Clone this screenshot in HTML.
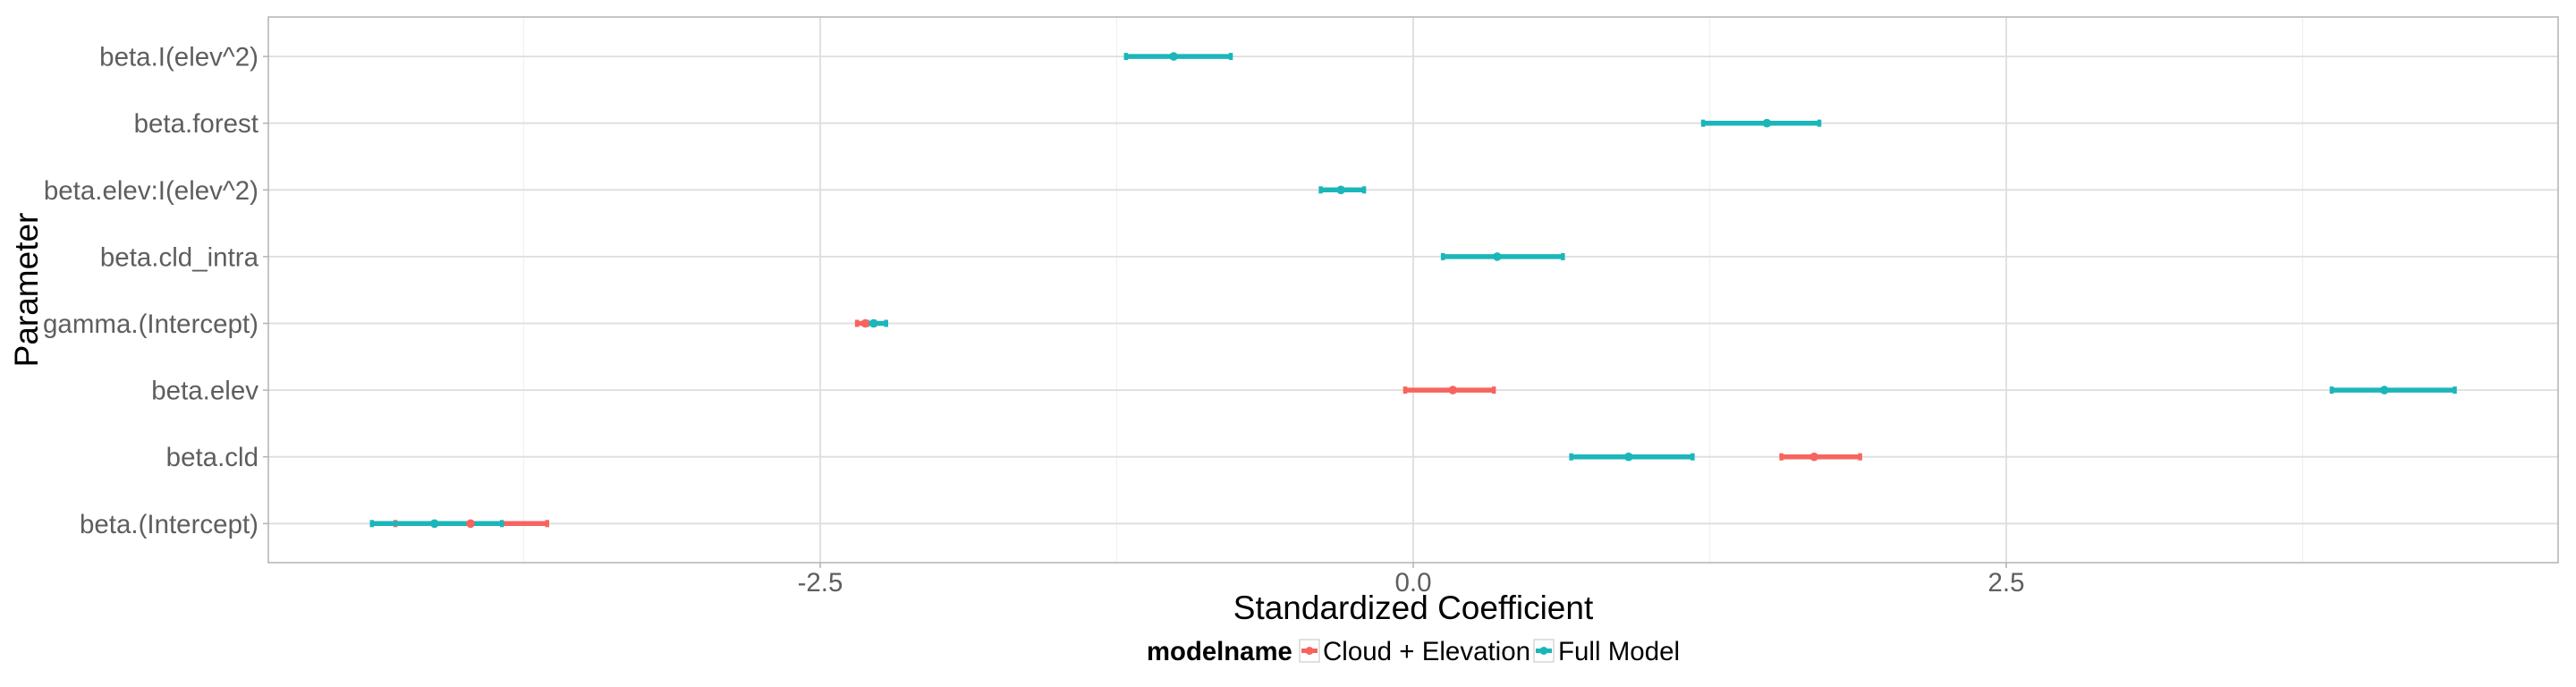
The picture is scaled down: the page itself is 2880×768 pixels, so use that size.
<!DOCTYPE html>
<html><head><meta charset="utf-8"><style>
html,body{margin:0;padding:0;background:#fff;}
svg{display:block;font-family:"Liberation Sans",Arial,sans-serif;}
</style></head><body>
<svg id="chart" width="2880" height="768" viewBox="0 0 2880 768">
<rect x="0" y="0" width="2880" height="768" fill="#fff"/>
<g id="grid"></g>
<g id="marks"></g>
<rect x="300" y="19" width="2560" height="610" fill="none" stroke="#b3b3b3" stroke-width="1.5"/>
<g id="axes"></g>
<text x="1580" y="692" text-anchor="middle" font-size="37" fill="#000">Standardized Coefficient</text>
<text transform="translate(42,324) rotate(-90)" text-anchor="middle" font-size="37" fill="#000">Parameter</text>
<g>
<text x="1282" y="738" font-size="29.3" font-weight="bold" fill="#000">modelname</text>
<g>
<rect x="1453" y="715" width="22" height="25" fill="#fff" stroke="#ccc" stroke-width="1.2"/>
<line x1="1455" y1="727.5" x2="1473" y2="727.5" stroke="#F7645F" stroke-width="5"/>
<circle cx="1464" cy="727.5" r="4.5" fill="#F7645F"/>
<text x="1479" y="738" font-size="29.5" fill="#000">Cloud + Elevation</text>
</g>
<g>
<rect x="1715" y="715" width="22" height="25" fill="#fff" stroke="#ccc" stroke-width="1.2"/>
<line x1="1717" y1="727.5" x2="1735" y2="727.5" stroke="#1BB6B9" stroke-width="5"/>
<circle cx="1726" cy="727.5" r="4.5" fill="#1BB6B9"/>
<text x="1742" y="738" font-size="29.5" fill="#000">Full Model</text>
</g>
</g>
</svg>
<script>
// data (bottom to top order of categories)
const categories = ["beta.(Intercept)","beta.cld","beta.elev","gamma.(Intercept)","beta.cld_intra","beta.elev:I(elev^2)","beta.forest","beta.I(elev^2)"];
const xTicks = [-2.5, 0, 2.5];
const xTickLabels = ["-2.5","0.0","2.5"];
const xMinor = [-3.75, -1.25, 1.25, 3.75];
// Cloud + Elevation (null = not in model)
const cloudEst  = [-3.974, 1.69, 0.167, -2.31, null, null, null, null];
const cloudLow  = [-4.291, 1.552, -0.034, -2.345, null, null, null, null];
const cloudHigh = [-3.651, 1.884, 0.340, -2.27, null, null, null, null];
// Full Model
const fullEst  = [-4.126, 0.908, 4.094, -2.275, 0.354, -0.305, 1.491, -1.010];
const fullLow  = [-4.390, 0.666, 3.872, -2.302, 0.125, -0.390, 1.222, -1.211];
const fullHigh = [-3.842, 1.178, 4.391, -2.222, 0.631, -0.207, 1.712, -0.769];

const NS = "http://www.w3.org/2000/svg";
const X0 = 1580, XU = 265.2;
const xs = v => X0 + XU * v;
const Y0 = 585.3, YS = 74.6;
const ys = i => Y0 - YS * i;
function mk(tag, attrs, parent) {
  const e = document.createElementNS(NS, tag);
  for (const k in attrs) e.setAttribute(k, attrs[k]);
  parent.appendChild(e);
  return e;
}
const grid = document.getElementById("grid");
const axes = document.getElementById("axes");
const marks = document.getElementById("marks");
xMinor.forEach(v => {
  const l = mk("line", {x1: xs(v), x2: xs(v), y1: 19, y2: 629, stroke: "#f0f0f0", "stroke-width": 1.2}, grid);
  
  
});
xTicks.forEach((v, i) => {
  const l = mk("line", {x1: xs(v), x2: xs(v), y1: 19, y2: 629, stroke: "#dedede", "stroke-width": 1.8}, grid);
  
  
  const t = mk("line", {x1: xs(v), x2: xs(v), y1: 629, y2: 635, stroke: "#b3b3b3", "stroke-width": 1.5}, axes);
  
  
  const tx = mk("text", {x: xs(v), y: 661, "text-anchor": "middle", "font-size": 29.5, fill: "#5e5e5e"}, axes);
  tx.textContent = xTickLabels[i];
  
  
});
categories.forEach((c, i) => {
  const l = mk("line", {x1: 300, x2: 2860, y1: ys(i), y2: ys(i), stroke: "#dedede", "stroke-width": 1.8}, grid);
  
  
  const t = mk("line", {x1: 294, x2: 300, y1: ys(i), y2: ys(i), stroke: "#b3b3b3", "stroke-width": 1.5}, axes);
  
  
  const tx = mk("text", {x: 289, y: ys(i) + 10.5, "text-anchor": "end", "font-size": 29.5, fill: "#5e5e5e"}, axes);
  tx.textContent = c;
  
  
});
function bars(low, high, color, name) {
  low.forEach((lo, i) => {
    if (lo === null) return;
    const hi = high[i], y = ys(i);
    const b = mk("line", {x1: xs(lo), x2: xs(hi), y1: y, y2: y, stroke: color, "stroke-width": 5.5}, marks);
    
    
    [lo, hi].forEach(v => {
      const cp = mk("line", {x1: xs(v), x2: xs(v), y1: y - 4, y2: y + 4, stroke: color, "stroke-width": 4.5}, marks);
      
      
    });
  });
}
function points(est, color, name) {
  est.forEach((v, i) => {
    if (v === null) return;
    const p = mk("circle", {cx: xs(v), cy: ys(i), r: 4.8, fill: color}, marks);
    
    
  });
}
bars(cloudLow, cloudHigh, "#F7645F", "cloud-elevation");
bars(fullLow, fullHigh, "#1BB6B9", "full-model");
points(cloudEst, "#F7645F", "cloud-elevation");
points(fullEst, "#1BB6B9", "full-model");
</script>
</body></html>
